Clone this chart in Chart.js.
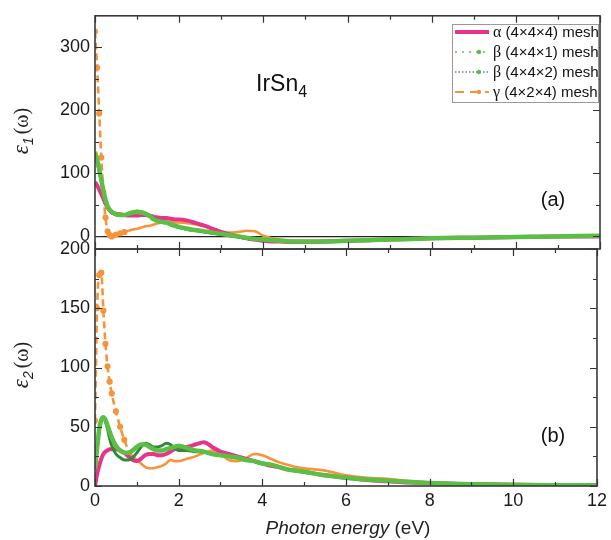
<!DOCTYPE html>
<html>
<head>
<meta charset="utf-8">
<script src="https://cdn.jsdelivr.net/npm/chart.js@4.4.0/dist/chart.umd.min.js"></script>
<style>
  html, body { margin: 0; padding: 0; background: #fff; }
  #wrap { position: relative; width: 611px; height: 540px; }
  canvas { position: absolute; left: 0; top: 0; }
</style>
</head>
<body>
<div id="wrap">
  <canvas id="eps1" width="611" height="540"></canvas>
  <canvas id="eps2" width="611" height="540"></canvas>
</div>
<script>
// photon energy grid (eV), shared by every curve
const energy = [0, 0.05, 0.1, 0.15, 0.2, 0.25, 0.3, 0.35, 0.4,
  0.5, 0.6, 0.7, 0.8, 0.9, 1.0, 1.1, 1.2, 1.3, 1.4, 1.5, 1.6, 1.7, 1.8, 1.9, 2.0,
  2.2, 2.4, 2.6, 2.8, 3.0, 3.2, 3.4, 3.6, 3.8, 4.0, 4.2, 4.4, 4.6, 4.8, 5.0,
  5.5, 6.0, 6.5, 7.0, 7.5, 8.0, 9, 10, 11, 12];

// (a) real part eps1
const eps1Alpha = [86, 81, 74, 67, 60, 52, 46, 41, 38,
  36, 35, 34, 33, 33, 33, 34, 34, 33, 31, 30, 29, 29, 28, 27, 27,
  25, 21, 17, 12, 7, 3, 0, -3, -5, -7, -8, -8, -9, -9, -9,
  -8, -7, -6, -5, -4, -3, -2, -1, 0, 0];
const eps1Beta1 = [134, 122, 106, 90, 72, 58, 48, 42, 39,
  35, 34, 34, 36, 38, 39, 38, 36, 32, 27, 24, 23, 22, 19, 17, 15,
  12, 10, 8, 6, 4, 2, 0, -2, -4, -5, -6, -7, -8, -8, -8,
  -8, -7, -6, -5, -4, -3, -2, -1, 0, 1];
const eps1Beta2 = [131, 119, 103, 87, 70, 57, 47, 41, 38,
  34, 33, 34, 36, 39, 40, 39, 37, 33, 28, 24, 22, 21, 18, 16, 14,
  11, 9, 7, 5, 3, 1, -1, -3, -4, -5, -6, -7, -8, -8, -8,
  -8, -7, -6, -5, -4, -3, -2, -1, 0, 1];
const eps1Gamma = [325, 268, 195, 125, 70, 30, 8, 2, 0,
  3, 5, 7, 9, 11, 12, 14, 16, 17, 19, 21, 22, 23, 23, 22, 22,
  21, 19, 16, 11, 7, 6, 7, 9, 8, 1, -3, -5, -6, -7, -7,
  -7, -6, -6, -5, -4, -3, -2, -1, 0, 1];

// (b) imaginary part eps2
const eps2Alpha = [0, 10, 17, 23, 27, 29, 30, 31, 31,
  31, 30, 28, 25, 22, 21, 23, 26, 27, 27, 26, 26, 27, 29, 31, 32,
  33, 35, 37, 33, 29, 27, 25, 23, 21, 19, 17, 16, 14, 13, 12,
  9, 7, 5, 4, 3, 2.5, 1.5, 1, 0.7, 0.5];
const eps2Beta1 = [15, 32, 48, 56, 58, 56, 51, 46, 41,
  34, 30, 28, 28, 30, 33, 35, 35, 33, 31, 30, 30, 31, 32, 33, 34,
  32, 30, 29, 27, 26, 25, 24, 22, 21, 19, 18, 16, 14, 13, 12,
  9, 7, 5.5, 4.5, 3.5, 2.5, 1.5, 1, 0.7, 0.5];
const eps2Beta2 = [14, 30, 46, 55, 57, 54, 48, 40, 34,
  27, 24, 22, 22, 24, 28, 33, 36, 35, 33, 33, 34, 36, 35, 32, 30,
  30, 29, 29, 27, 26, 25, 24, 22, 21, 19, 18, 16, 14, 13, 12,
  9, 7, 5.5, 4.5, 3.5, 2.5, 1.5, 1, 0.7, 0.5];
const eps2Gamma = [55, 150, 178, 180, 148, 120, 101, 88, 78,
  63, 50, 39, 30, 25, 22, 19, 16, 15, 15, 16, 17, 19, 22, 21, 21,
  23, 25, 28, 30, 27, 22, 21, 23, 27, 26, 23, 20, 18, 16, 15,
  13, 9, 7, 6, 4, 3, 2, 1.5, 1, 1];

const seriesNames = ['α (4×4×4) mesh', 'β (4×4×1) mesh', 'β (4×4×2) mesh', 'γ (4×2×4) mesh'];

const xTicks = [0, 2, 4, 6, 8, 10, 12];
const xMinor = [1, 3, 5, 7, 9, 11];
const eps1Ticks = [0, 100, 200, 300];
const eps1Minor = [50, 150, 250];
const eps2Ticks = [0, 50, 100, 150, 200];
const eps2Minor = [25, 75, 125, 175];

const PINK = '#e8338b', LGREEN = '#5cbf45', DGREEN = '#2f8a3b', ORANGE = '#f5943a';
const SANS = '"Liberation Sans", Arial, sans-serif';
const SERIF = '"Liberation Serif", "Times New Roman", serif';

const pts = ys => energy.map((x, i) => ({ x: x, y: ys[i] }));

function makeDatasets(a, b1, b2, g) {
  return [
    { label: seriesNames[0], data: pts(a), borderColor: PINK, borderWidth: 4, pointRadius: 0, order: 2 },
    { label: seriesNames[1], data: pts(b1), borderColor: LGREEN, borderWidth: 4.5, pointRadius: 0, order: 0 },
    { label: seriesNames[2], data: pts(b2), borderColor: DGREEN, borderWidth: 3, pointRadius: 0, order: 1 },
    { label: seriesNames[3], data: pts(g), borderColor: ORANGE, backgroundColor: ORANGE, borderWidth: 2.6,
      // dashed with markers on the steep Drude part, dense (solid-looking) afterwards
      segment: { borderDash: c => c.p0.parsed.x < 0.8 ? [7, 4] : undefined },
      pointRadius: c => (c.raw && c.raw.x < 0.8) ? 1.8 : 0, order: 3 }
  ];
}

// inner ticks on all four sides + frame
const framePlugin = {
  id: 'frame',
  afterDatasetsDraw(chart, args, o) {
    const { ctx, chartArea: a } = chart;
    const xs = chart.scales.x, ys = chart.scales.y;
    ctx.save();
    ctx.strokeStyle = '#333';
    ctx.lineWidth = 1.2;
    ctx.beginPath();
    const vt = (vals, len) => vals.forEach(v => {
      const p = Math.round(xs.getPixelForValue(v)) + 0.5;
      ctx.moveTo(p, a.bottom); ctx.lineTo(p, a.bottom - len);
      ctx.moveTo(p, a.top); ctx.lineTo(p, a.top + len);
    });
    const ht = (vals, len) => vals.forEach(v => {
      const p = Math.round(ys.getPixelForValue(v)) + 0.5;
      ctx.moveTo(a.left, p); ctx.lineTo(a.left + len, p);
      ctx.moveTo(a.right, p); ctx.lineTo(a.right - len, p);
    });
    vt(xTicks, 7); vt(xMinor, 4);
    ht(o.yMajor, 7); ht(o.yMinor, 4);
    ctx.stroke();
    ctx.lineWidth = 1.6;
    ctx.strokeStyle = '#3a3a3a';
    ctx.strokeRect(a.left, a.top, a.right - a.left, a.bottom - a.top);
    ctx.restore();
  }
};

function drawEps(ctx, cx, cy, sub) {
  ctx.save();
  ctx.translate(cx, cy);
  ctx.rotate(-Math.PI / 2);
  ctx.fillStyle = '#222';
  ctx.textBaseline = 'alphabetic';
  const f1 = 'italic 23px ' + SERIF, f2 = 'italic 14px ' + SANS, f3 = '20px ' + SERIF;
  ctx.font = f1; const w1 = ctx.measureText('ε').width;
  ctx.font = f2; const w2 = ctx.measureText(sub).width + 3;
  ctx.font = f3; const w3 = ctx.measureText('(ω)').width;
  let x = -(w1 + w2 + w3) / 2;
  ctx.font = f1; ctx.fillText('ε', x, 0); x += w1;
  ctx.font = f2; ctx.fillText(sub, x, 5); x += w2;
  ctx.font = f3; ctx.fillText('(ω)', x, 0);
  ctx.restore();
}

const topText = {
  id: 'topText',
  afterDraw(chart) {
    const ctx = chart.ctx;
    ctx.save();
    ctx.fillStyle = '#111';
    ctx.textBaseline = 'alphabetic';
    ctx.font = '23px ' + SANS;
    ctx.fillText('IrSn', 256, 91);
    const w = ctx.measureText('IrSn').width;
    ctx.font = '16px ' + SANS;
    ctx.fillText('4', 256 + w, 97);
    ctx.font = '20px ' + SANS;
    ctx.textAlign = 'center';
    ctx.textBaseline = 'middle';
    ctx.fillText('(a)', 553, 200);
    ctx.restore();
    drawEps(ctx, 28, 131, '1');

    // legend
    ctx.save();
    ctx.fillStyle = '#fff';
    ctx.fillRect(452, 24, 146, 78);
    ctx.strokeStyle = '#999';
    ctx.lineWidth = 1;
    ctx.strokeRect(452.5, 24.5, 146, 78);
    const rows = [32, 52, 72, 92];
    const x0 = 455, x1 = 489, xm = 479;
    ctx.strokeStyle = PINK; ctx.lineWidth = 4;
    ctx.beginPath(); ctx.moveTo(x0, rows[0]); ctx.lineTo(x1, rows[0]); ctx.stroke();
    ctx.strokeStyle = LGREEN; ctx.lineWidth = 1.5; ctx.setLineDash([2, 5]);
    ctx.beginPath(); ctx.moveTo(x0, rows[1]); ctx.lineTo(x1, rows[1]); ctx.stroke();
    ctx.strokeStyle = '#7a78c8'; ctx.setLineDash([1.5, 2]);
    ctx.beginPath(); ctx.moveTo(x0, rows[2]); ctx.lineTo(x1, rows[2]); ctx.stroke();
    ctx.strokeStyle = ORANGE; ctx.lineWidth = 2; ctx.setLineDash([9, 6]);
    ctx.beginPath(); ctx.moveTo(x0, rows[3]); ctx.lineTo(x1, rows[3]); ctx.stroke();
    ctx.setLineDash([]);
    [[LGREEN, rows[1]], [LGREEN, rows[2]], [ORANGE, rows[3]]].forEach(([c, y]) => {
      ctx.fillStyle = c; ctx.beginPath(); ctx.arc(xm, y, 2.2, 0, Math.PI * 2); ctx.fill();
    });
    ctx.fillStyle = '#111';
    ctx.textBaseline = 'middle';
    seriesNames.forEach((t, i) => {
      const greek = t.slice(0, 1), rest = t.slice(1);
      ctx.font = '16px ' + SERIF;
      ctx.fillText(greek, 493, rows[i] + 1);
      const gw = ctx.measureText(greek).width;
      ctx.font = '15px ' + SANS;
      ctx.fillText(rest, 493 + gw, rows[i] + 1);
    });
    ctx.restore();
  }
};

const bottomText = {
  id: 'bottomText',
  afterDraw(chart) {
    const ctx = chart.ctx;
    ctx.save();
    ctx.fillStyle = '#111';
    ctx.font = '20px ' + SANS;
    ctx.textAlign = 'center';
    ctx.textBaseline = 'middle';
    ctx.fillText('(b)', 553, 436);
    // x title: italic "Photon energy" + upright "(eV)"
    ctx.textAlign = 'left';
    ctx.fillStyle = '#222';
    const t1 = 'Photon energy', t2 = ' (eV)';
    ctx.font = 'italic 19px ' + SANS; const w1 = ctx.measureText(t1).width;
    ctx.font = '19px ' + SANS; const w2 = ctx.measureText(t2).width;
    let x = 348 - (w1 + w2) / 2;
    ctx.font = 'italic 19px ' + SANS; ctx.fillText(t1, x, 529);
    ctx.font = '19px ' + SANS; ctx.fillText(t2, x + w1, 529);
    ctx.restore();
    drawEps(ctx, 28, 365, '2');
  }
};

const tickFont = { family: SANS, size: 18 };

function yAxis(ticks, min, max, zeroLine) {
  return {
    type: 'linear', min: min, max: max,
    afterBuildTicks: s => { s.ticks = ticks.map(v => ({ value: v })); },
    afterFit: s => { s.width = 95; },
    ticks: { font: tickFont, color: '#1a1a1a', padding: 5 },
    border: { display: false },
    grid: {
      drawTicks: false, tickLength: 0,
      color: c => (zeroLine && c.tick && c.tick.value === 0) ? '#222' : 'rgba(0,0,0,0)',
      lineWidth: 1.2
    }
  };
}

new Chart(document.getElementById('eps1'), {
  type: 'line',
  data: { datasets: makeDatasets(eps1Alpha, eps1Beta1, eps1Beta2, eps1Gamma) },
  plugins: [framePlugin, topText],
  options: {
    responsive: false, animation: false,
    layout: { padding: { top: 14, right: 11, bottom: 291, left: 0 } },
    elements: { line: { cubicInterpolationMode: 'monotone' } },
    plugins: {
      legend: { display: false }, tooltip: { enabled: false },
      frame: { yMajor: eps1Ticks, yMinor: eps1Minor }
    },
    scales: {
      x: {
        type: 'linear', min: 0, max: 12,
        ticks: { display: false }, grid: { display: false }, border: { display: false },
        afterFit: s => { s.height = 0; }
      },
      y: yAxis(eps1Ticks, -20, 350, true)
    }
  }
});

new Chart(document.getElementById('eps2'), {
  type: 'line',
  data: { datasets: makeDatasets(eps2Alpha, eps2Beta1, eps2Beta2, eps2Gamma) },
  plugins: [framePlugin, bottomText],
  options: {
    responsive: false, animation: false,
    layout: { padding: { top: 249, right: 11, bottom: 0, left: 0 } },
    elements: { line: { cubicInterpolationMode: 'monotone' } },
    plugins: {
      legend: { display: false }, tooltip: { enabled: false },
      frame: { yMajor: eps2Ticks, yMinor: eps2Minor }
    },
    scales: {
      x: {
        type: 'linear', min: 0, max: 12,
        afterBuildTicks: s => { s.ticks = xTicks.map(v => ({ value: v })); },
        afterFit: s => { s.height = 54; },
        ticks: { font: tickFont, color: '#1a1a1a', padding: 4, maxRotation: 0 },
        grid: { display: false, drawTicks: false, tickLength: 0 },
        border: { display: false }
      },
      y: yAxis(eps2Ticks, 0, 200, false)
    }
  }
});
</script>
</body>
</html>
